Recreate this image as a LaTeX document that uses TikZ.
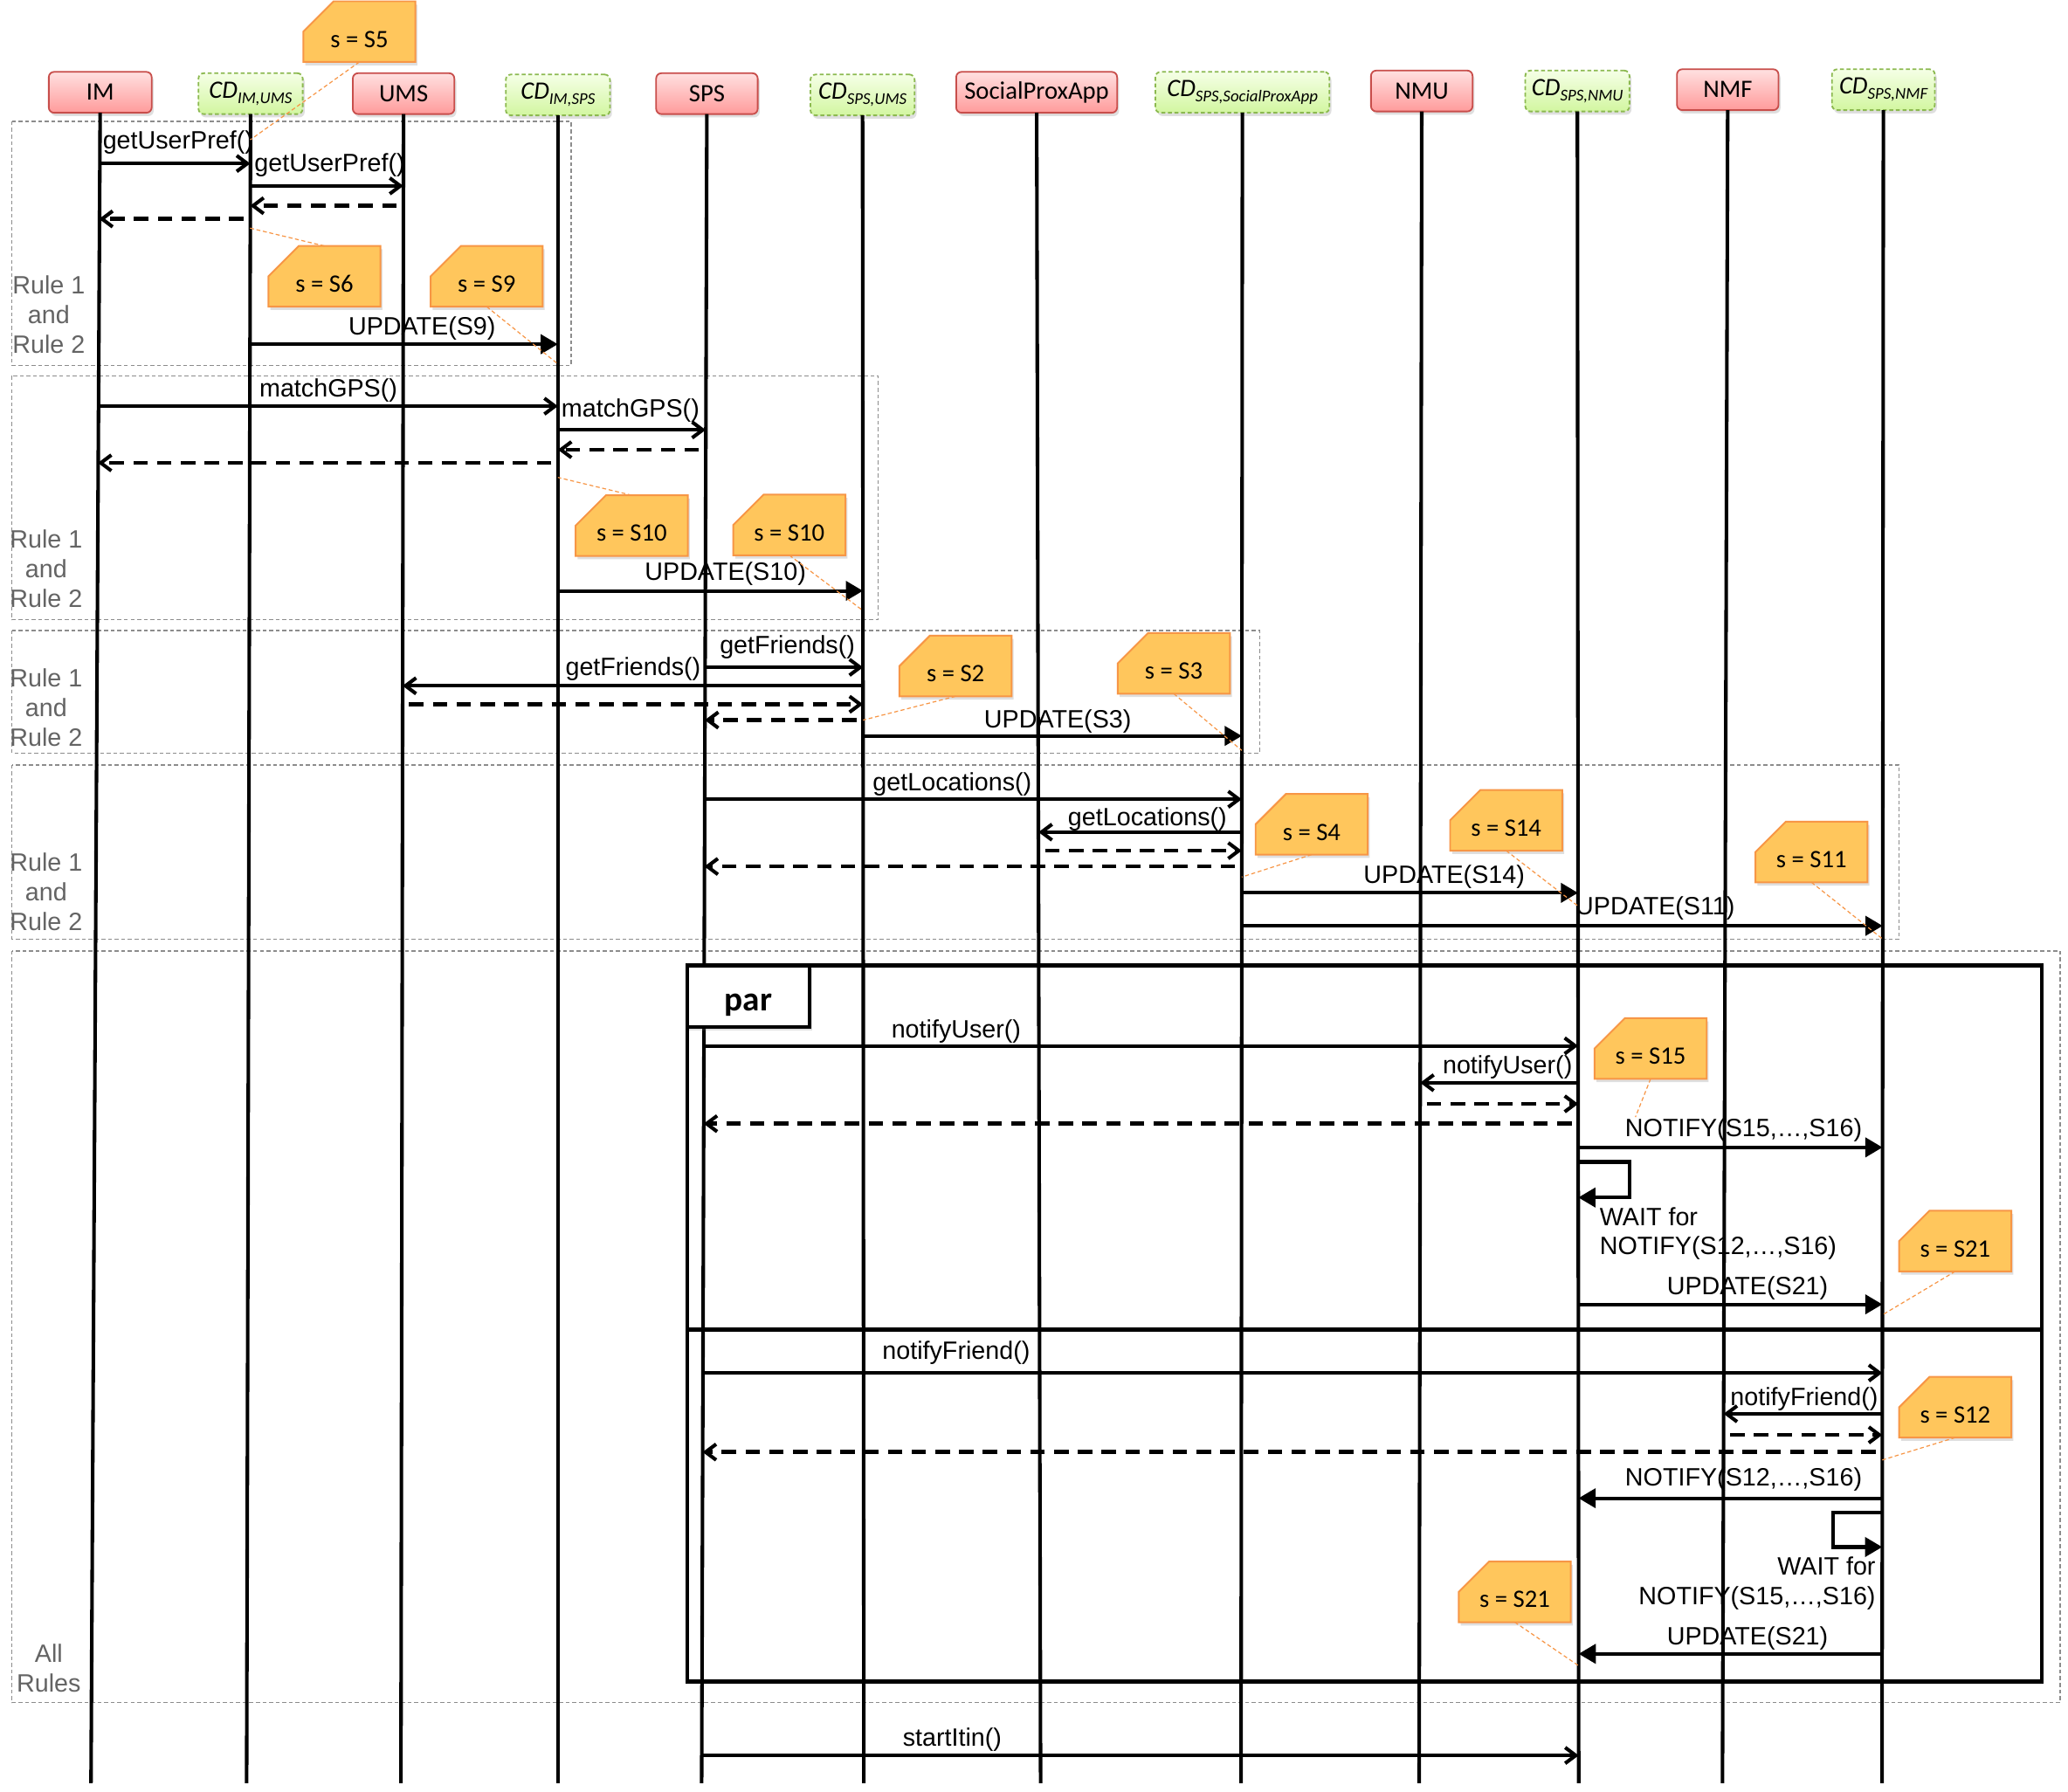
\documentclass[tikz,border=0pt]{standalone}
\usepackage{fontspec}
\setmainfont{Liberation Sans}
\newfontfamily\calfont{Carlito}
\usetikzlibrary{arrows.meta,shapes.misc,shadows,calc}
\definecolor{notefill}{RGB}{255,198,92}
\definecolor{noteline}{RGB}{247,150,70}
\definecolor{redtop}{RGB}{255,224,224}
\definecolor{redbot}{RGB}{255,155,155}
\definecolor{redline}{RGB}{200,78,75}
\definecolor{greentop}{RGB}{245,255,230}
\definecolor{greenbot}{RGB}{210,246,160}
\definecolor{greenline}{RGB}{140,185,80}
\definecolor{framegray}{RGB}{140,140,140}
\definecolor{rulegray}{RGB}{100,100,100}
\newcommand\cdsub[1]{{\itshape CD\raisebox{-4pt}{\fontsize{12.5}{13}\selectfont #1}}}
\begin{document}
\begin{tikzpicture}[x=1pt,y=-1pt,
  every node/.style={inner sep=0pt,outer sep=0pt},
  redobj/.style={draw=redline,line width=1.2pt,rounded corners=4pt,
     top color=redtop,bottom color=redbot,minimum height=31pt,
     font=\calfont\fontsize{19}{22}\selectfont,
     drop shadow={opacity=0.25,shadow xshift=1.5pt,shadow yshift=-2.5pt}},
  cdobj/.style={draw=greenline,line width=1.2pt,dash pattern=on 3pt off 2pt,rounded corners=4pt,
     top color=greentop,bottom color=greenbot,minimum height=31pt,
     font=\calfont\fontsize{19}{22}\selectfont,
     drop shadow={opacity=0.25,shadow xshift=1.5pt,shadow yshift=-2.5pt}},
  life/.style={line width=2.7pt,black},
  frm/.style={draw=framegray,line width=0.9pt,dash pattern=on 3pt off 2pt},
  rulelbl/.style={align=center,text=rulegray,font=\fontsize{19}{22.5}\selectfont},
  msglbl/.style={font=\fontsize{19}{22}\selectfont},
  call/.style={line width=2.7pt,-{Straight Barb[length=8pt,width=12pt]}},
  ret/.style={line width=3pt,dash pattern=on 11pt off 7pt,shorten <=5pt,-{Straight Barb[length=8pt,width=12pt,line width=2.7pt]}},
  upd/.style={line width=2.7pt,-{Triangle[length=13pt,width=14.5pt]}},
  notebox/.style={chamfered rectangle,chamfered rectangle corners=north west,
     chamfered rectangle xsep=13pt,chamfered rectangle ysep=11pt,
     draw=noteline,fill=notefill,line width=1.3pt,minimum width=85pt,minimum height=42pt,
     text height=24pt,text depth=0pt,font=\calfont\fontsize{19}{22}\selectfont,
     drop shadow={opacity=0.25,shadow xshift=1.5pt,shadow yshift=-2.5pt}},
  noteln/.style={draw=noteline,line width=0.8pt,dash pattern=on 3pt off 2pt},
  parfrm/.style={line width=3pt,black}
]
\fill[white] (0,0) rectangle (1568,1358.75);
\useasboundingbox (0,0) rectangle (1568,1358.75);

% lifeline end coordinates
\coordinate (t-IM) at (76,0);     \coordinate (b-IM) at (69,1352);
\coordinate (t-CDa) at (190,0);   \coordinate (b-CDa) at (187,1352);
\coordinate (t-UMS) at (306,0);   \coordinate (b-UMS) at (304,1352);
\coordinate (t-CDb) at (423,0);   \coordinate (b-CDb) at (423,1352);
\coordinate (t-SPS) at (536,0);   \coordinate (b-SPS) at (532,1352);
\coordinate (t-CDc) at (654,0);   \coordinate (b-CDc) at (655,1352);
\coordinate (t-SPA) at (786,0);   \coordinate (b-SPA) at (789,1352);
\coordinate (t-CDd) at (942,0);   \coordinate (b-CDd) at (941,1352);
\coordinate (t-NMU) at (1078,0);  \coordinate (b-NMU) at (1076,1352);
\coordinate (t-CDe) at (1196,0);  \coordinate (b-CDe) at (1197,1352);
\coordinate (t-NMF) at (1310,0);  \coordinate (b-NMF) at (1306,1352);
\coordinate (t-CDf) at (1428,0);  \coordinate (b-CDf) at (1427,1352);

% rule frames
\draw[frm] (9,92) rectangle (433,277);
\draw[frm] (9,285) rectangle (666,470);
\draw[frm] (9,478) rectangle (955,571);
\draw[frm] (9,580) rectangle (1440,712);
\draw[frm] (9,721) rectangle (1562,1291);
\node[rulelbl] (r1) at (37,238.5) {Rule 1\\and\\Rule 2};
\node[rulelbl] (r2) at (35,431.5) {Rule 1\\and\\Rule 2};
\node[rulelbl] (r3) at (35,536.5) {Rule 1\\and\\Rule 2};
\node[rulelbl] (r4) at (35,676.5) {Rule 1\\and\\Rule 2};
\node[rulelbl] (r5) at (37,1265) {All\\Rules};

% headers
\node[redobj,minimum width=78pt] (IM) at (76,70) {IM};
\node[cdobj,minimum width=79pt] (CDa) at (190,71) {\cdsub{IM,UMS}};
\node[redobj,minimum width=77pt] (UMS) at (306,71) {UMS};
\node[cdobj,minimum width=79pt] (CDb) at (423,72) {\cdsub{IM,SPS}};
\node[redobj,minimum width=77pt] (SPS) at (536,71) {SPS};
\node[cdobj,minimum width=79pt] (CDc) at (654,72) {\cdsub{SPS,UMS}};
\node[redobj,minimum width=122pt] (SPA) at (786,70) {SocialProxApp};
\node[cdobj,minimum width=132pt] (CDd) at (942,70) {\cdsub{SPS,SocialProxApp}};
\node[redobj,minimum width=77pt] (NMU) at (1078,69) {NMU};
\node[cdobj,minimum width=79pt] (CDe) at (1196,69) {\cdsub{SPS,NMU}};
\node[redobj,minimum width=77pt] (NMF) at (1310,68) {NMF};
\node[cdobj,minimum width=78pt] (CDf) at (1428,68) {\cdsub{SPS,NMF}};

% lifelines
\foreach \n in {IM,CDa,UMS,CDb,SPS,CDc,SPA,CDd,NMU,CDe,NMF,CDf}
  \draw[life] (\n) -- (b-\n);

% par fragment
\draw[parfrm] (521,732) rectangle (1548,1275);
\draw[parfrm] (521,1008) -- (1548,1008);
\node[draw,line width=2.7pt,fill=white,minimum width=93pt,minimum height=47pt,anchor=north west,
  text height=22pt,text depth=0pt,
  font=\calfont\bfseries\fontsize{26}{28}\selectfont,
  drop shadow={opacity=0.25,shadow xshift=1.5pt,shadow yshift=-2.5pt}] (par) at (521,732) {par};

% messages
\foreach \f/\t/\y/\s in {
 IM/CDa/124/call, CDa/UMS/141/call, UMS/CDa/156/ret, CDa/IM/166/ret, CDa/CDb/261/upd,
 IM/CDb/308/call, CDb/SPS/326/call, SPS/CDb/341/ret, CDb/IM/351/ret, CDb/CDc/448/upd,
 SPS/CDc/506/call, CDc/UMS/520/call, UMS/CDc/534/ret, CDc/SPS/546/ret, CDc/CDd/558/upd,
 SPS/CDd/606/call, CDd/SPA/631/call, SPA/CDd/645/ret, CDd/SPS/657/ret, CDd/CDe/677/upd, CDd/CDf/702/upd,
 SPS/CDe/793/call, CDe/NMU/821/call, NMU/CDe/837/ret, CDe/SPS/852/ret, CDe/CDf/870/upd, CDe/CDf/989/upd,
 SPS/CDf/1041/call, CDf/NMF/1072/call, NMF/CDf/1088/ret, CDf/SPS/1101/ret, CDf/CDe/1136/upd, CDf/CDe/1254/upd,
 SPS/CDe/1331/call}
 \draw[\s] ($(t-\f)!{\y/1352}!(b-\f)$) -- ($(t-\t)!{\y/1352}!(b-\t)$);

% self loops
\draw[upd] ($(t-CDe)!{881/1352}!(b-CDe)$) -- ++(39,0) |- ($(t-CDe)!{908/1352}!(b-CDe)$);
\draw[upd] ($(t-CDf)!{1147/1352}!(b-CDf)$) -- ++(-37,0) |- ($(t-CDf)!{1173/1352}!(b-CDf)$);

% message labels
\node[msglbl] (m1) at (135,108) {getUserPref()};
\node[msglbl] (m2) at (250,125) {getUserPref()};
\node[msglbl] (m3) at (320,249) {UPDATE(S9)};
\node[msglbl] (m4) at (249,296) {matchGPS()};
\node[msglbl] (m5) at (478,311) {matchGPS()};
\node[msglbl] (m6) at (550,435) {UPDATE(S10)};
\node[msglbl] (m7) at (597,491) {getFriends()};
\node[msglbl] (m8) at (480,507) {getFriends()};
\node[msglbl] (m9) at (802,547) {UPDATE(S3)};
\node[msglbl] (m10) at (722,595) {getLocations()};
\node[msglbl] (m11) at (870,621) {getLocations()};
\node[msglbl] (m12) at (1095,665) {UPDATE(S14)};
\node[msglbl] (m13) at (1255,689) {UPDATE(S11)};
\node[msglbl] (m14) at (725,782) {notifyUser()};
\node[msglbl] (m15) at (1143,809) {notifyUser()};
\node[msglbl] (m16) at (1322,857) {NOTIFY(S15,…,S16)};
\node[msglbl,align=left,anchor=west] (w1) at (1213,935.5) {WAIT for\\NOTIFY(S12,…,S16)};
\node[msglbl] (m17) at (1325,977) {UPDATE(S21)};
\node[msglbl] (m18) at (725,1026) {notifyFriend()};
\node[msglbl] (m19) at (1368,1061) {notifyFriend()};
\node[msglbl] (m20) at (1322,1122) {NOTIFY(S12,…,S16)};
\node[msglbl,align=right,anchor=east] (w2) at (1422,1200.5) {WAIT for\\NOTIFY(S15,…,S16)};
\node[msglbl] (m21) at (1325,1242) {UPDATE(S21)};
\node[msglbl] (m22) at (722,1319) {startItin()};

% notes
\node[notebox] (n5) at (272.5,24) {s = S5};
\node[notebox] (n6) at (246,209.5) {s = S6};
\node[notebox] (n9) at (369,209.5) {s = S9};
\node[notebox] (n10a) at (479,398.5) {s = S10};
\node[notebox] (n10b) at (598.5,398) {s = S10};
\node[notebox] (n2) at (724.5,505) {s = S2};
\node[notebox] (n3) at (890,503) {s = S3};
\node[notebox] (n4) at (994.5,625) {s = S4};
\node[notebox] (n14) at (1142,622) {s = S14};
\node[notebox] (n11) at (1373.5,646) {s = S11};
\node[notebox] (n15) at (1251.5,795) {s = S15};
\node[notebox] (n21a) at (1482.5,941) {s = S21};
\node[notebox] (n12) at (1482.5,1067) {s = S12};
\node[notebox] (n21b) at (1148.5,1207) {s = S21};

% note connectors
\coordinate (c15) at (1240,847);
\draw[noteln] (n5.south) -- ($(t-CDa)!{106/1352}!(b-CDa)$);
\draw[noteln] (n6.north) -- ($(t-CDa)!{173/1352}!(b-CDa)$);
\draw[noteln] (n9.south) -- ($(t-CDb)!{276/1352}!(b-CDb)$);
\draw[noteln] (n10a.north) -- ($(t-CDb)!{362/1352}!(b-CDb)$);
\draw[noteln] (n10b.south) -- ($(t-CDc)!{463/1352}!(b-CDc)$);
\draw[noteln] (n2.south) -- ($(t-CDc)!{546/1352}!(b-CDc)$);
\draw[noteln] (n3.south) -- ($(t-CDd)!{569/1352}!(b-CDd)$);
\draw[noteln] (n4.south) -- ($(t-CDd)!{665/1352}!(b-CDd)$);
\draw[noteln] (n14.south) -- ($(t-CDe)!{687/1352}!(b-CDe)$);
\draw[noteln] (n11.south) -- ($(t-CDf)!{712/1352}!(b-CDf)$);
\draw[noteln] (n15.south) -- (c15);
\draw[noteln] (n21a.south) -- ($(t-CDf)!{997/1352}!(b-CDf)$);
\draw[noteln] (n12.south) -- ($(t-CDf)!{1107/1352}!(b-CDf)$);
\draw[noteln] (n21b.south) -- ($(t-CDe)!{1263/1352}!(b-CDe)$);
\end{tikzpicture}
\end{document}
